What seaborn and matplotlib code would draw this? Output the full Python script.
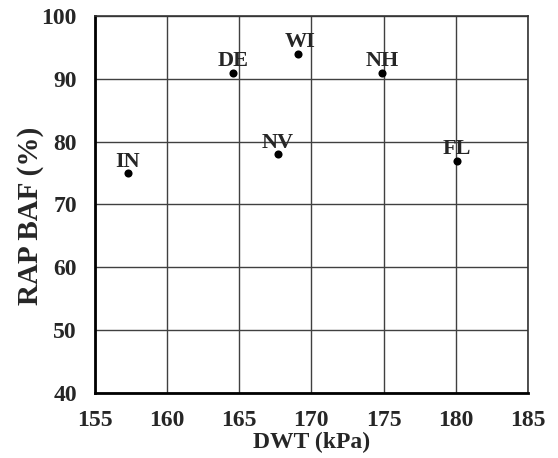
import matplotlib
matplotlib.use("Agg")
import matplotlib.pyplot as plt
import seaborn as sns
import pandas as pd

# data
states = ["IN", "DE", "WI", "NV", "NH", "FL"]
dwt = [157.3, 164.6, 169.1, 167.7, 174.9, 180.1]
baf = [75, 91, 94, 78, 91, 77]
# small horizontal nudges of the labels (points), as in the original
label_dx = [0, 0, 1.5, 0, 0, 0]

df = pd.DataFrame({"State": states, "DWT": dwt, "BAF": baf})

sns.set_style("white")
plt.rcParams["font.family"] = ["Liberation Serif", "DejaVu Serif"]
plt.rcParams["font.weight"] = "bold"

fig = plt.figure(figsize=(5.58, 4.58), dpi=100)
ax = fig.add_axes([0.170, 0.142, 0.776, 0.823])

sns.scatterplot(data=df, x="DWT", y="BAF", color="black", s=34,
                edgecolor="black", linewidth=0, ax=ax, zorder=3)

for s, x, y, dx in zip(states, dwt, baf, label_dx):
    ax.annotate(s, (x, y), xytext=(dx, 4.5), textcoords="offset points",
                ha="center", va="baseline", fontsize=16, fontweight="bold")

ax.set_xlim(155, 185)
ax.set_ylim(40, 100)
ax.set_xticks(range(155, 186, 5))
ax.set_yticks(range(40, 101, 10))
ax.grid(True, color="#404040", linewidth=1.0)
ax.set_axisbelow(True)

for side in ["top", "right"]:
    ax.spines[side].set_color("#333333")
    ax.spines[side].set_linewidth(1.2)
for side in ["left", "bottom"]:
    ax.spines[side].set_color("black")
    ax.spines[side].set_linewidth(2.0)

ax.tick_params(axis="x", length=0, labelsize=17, pad=12)
ax.tick_params(axis="y", length=0, labelsize=17, pad=13)
for lab in ax.get_xticklabels() + ax.get_yticklabels():
    lab.set_fontweight("bold")

ax.set_xlabel("DWT (kPa)", fontsize=17, fontweight="bold", labelpad=1)
ax.set_ylabel("RAP BAF (%)", fontsize=21, fontweight="bold")
ax.yaxis.set_label_coords(-0.118, 0.47)

fig.savefig("out.png", dpi=100)
